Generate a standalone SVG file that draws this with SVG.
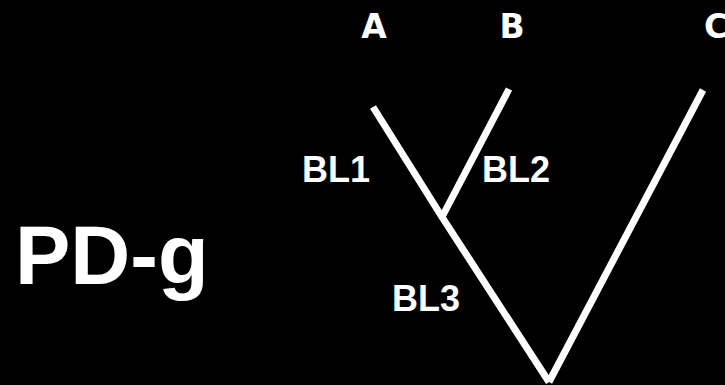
<svg xmlns="http://www.w3.org/2000/svg" width="725" height="385" viewBox="0 0 725 385">
<style>
.bg{fill:#000}
.leaf{font-family:"DejaVu Sans",Verdana,sans-serif;font-weight:bold;font-size:33px;fill:#fff}
.bl{font-family:"Liberation Sans",Arial,sans-serif;font-weight:bold;font-size:36px;fill:#fff}
.title{font-family:"Liberation Sans",Arial,sans-serif;font-weight:bold;font-size:83px;fill:#fff}
.edge{stroke:#fff;stroke-width:7;fill:none;stroke-linecap:butt;stroke-linejoin:miter}
</style>
<rect class="bg" x="0" y="0" width="725" height="385"/>
<g id="connectors">
<polyline class="edge" points="373,107 442,217 549,382"/>
<line class="edge" x1="509" y1="89" x2="442" y2="217"/>
<polyline class="edge" points="703,90 549,382"/>
</g>
<g id="node-A"><text class="leaf" x="374" y="38" text-anchor="middle">A</text></g>
<g id="node-B"><text class="leaf" x="512" y="38" text-anchor="middle">B</text></g>
<g id="node-C"><text class="leaf" x="704" y="38">C</text></g>
<g id="label-BL1"><text class="bl" x="302" y="182">BL1</text></g>
<g id="label-BL2"><text class="bl" x="482" y="182">BL2</text></g>
<g id="label-BL3"><text class="bl" x="392" y="311">BL3</text></g>
<g id="title"><text class="title" x="15" y="284">PD-g</text></g>
</svg>
